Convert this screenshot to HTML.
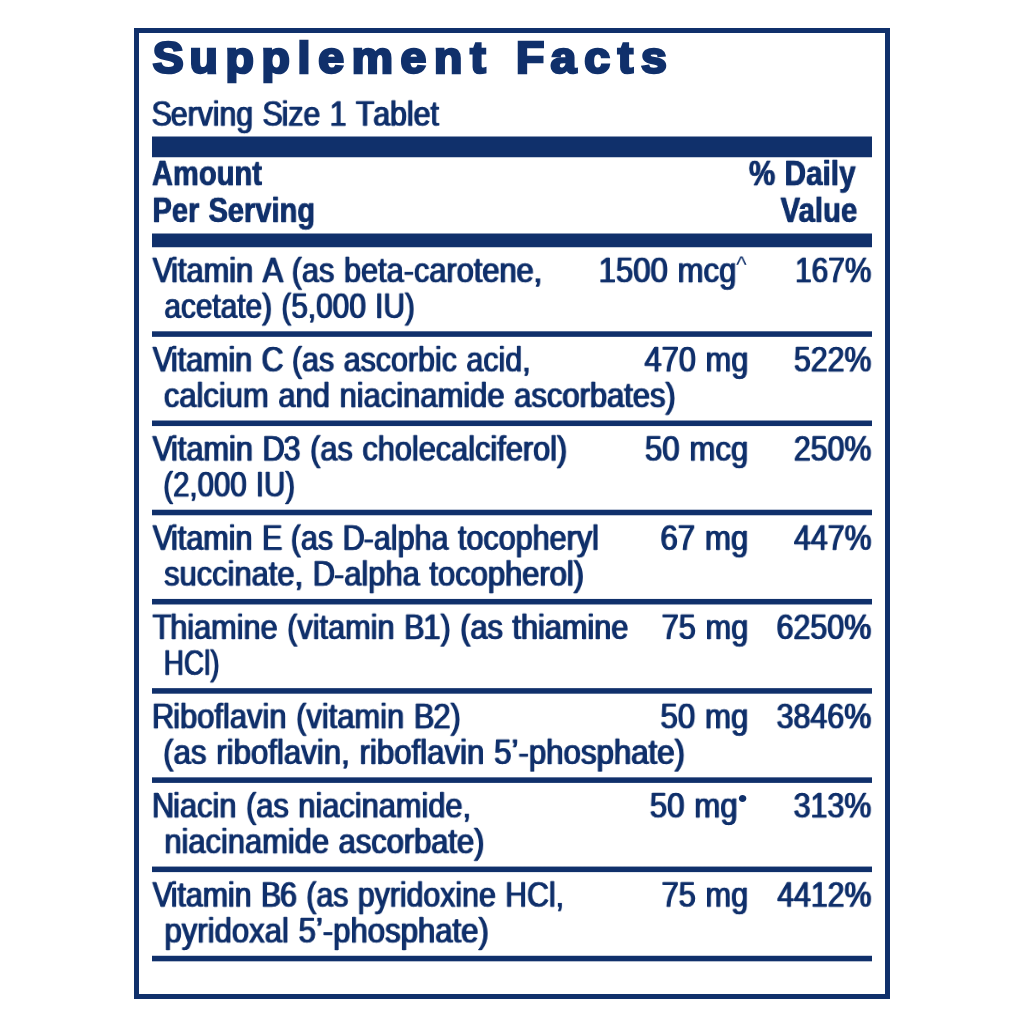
<!DOCTYPE html>
<html lang="en"><head><meta charset="utf-8"><title>Supplement Facts</title>
<style>
html,body{margin:0;padding:0;background:#fff;}
body{width:1024px;height:1024px;position:relative;overflow:hidden;font-family:"Liberation Sans",sans-serif;color:#10306b;}
.box{position:absolute;left:134px;top:28px;width:746px;height:961px;border:5px solid #10306b;box-sizing:content-box;}
.bar{position:absolute;left:152px;width:720px;}
.w{display:inline-block}.c::first-letter{letter-spacing:-1.3px}.v::first-letter{letter-spacing:-2.4px}.ksu::first-letter{letter-spacing:5.433px}.kfa::first-letter{letter-spacing:5.896px}
.t{position:absolute;left:0;top:0;white-space:nowrap;transform-origin:0 0;line-height:1;-webkit-text-stroke-color:#10306b;will-change:transform;}
</style></head><body>
<div class="box"></div>
<div class="bar" style="top:135px;height:24px;background:linear-gradient(to bottom,rgba(16,48,107,0) 1px,#10306b 2px,#10306b 21.75px,rgba(16,48,107,0) 22.75px)"></div>
<div class="bar" style="top:232px;height:17px;background:linear-gradient(to bottom,rgba(16,48,107,0) 1px,#10306b 2px,#10306b 14.75px,rgba(16,48,107,0) 15.75px)"></div>
<div class="bar" style="top:330px;height:8px;background:linear-gradient(to bottom,rgba(16,48,107,0) 0.8px,#10306b 1.8px,#10306b 6.35px,rgba(16,48,107,0) 7.35px)"></div>
<div class="bar" style="top:419px;height:9px;background:linear-gradient(to bottom,rgba(16,48,107,0) 1.01px,#10306b 2.01px,#10306b 6.56px,rgba(16,48,107,0) 7.56px)"></div>
<div class="bar" style="top:508px;height:9px;background:linear-gradient(to bottom,rgba(16,48,107,0) 1.22px,#10306b 2.22px,#10306b 6.77px,rgba(16,48,107,0) 7.77px)"></div>
<div class="bar" style="top:597px;height:9px;background:linear-gradient(to bottom,rgba(16,48,107,0) 1.43px,#10306b 2.43px,#10306b 6.98px,rgba(16,48,107,0) 7.98px)"></div>
<div class="bar" style="top:687px;height:8px;background:linear-gradient(to bottom,rgba(16,48,107,0) 0.64px,#10306b 1.64px,#10306b 6.19px,rgba(16,48,107,0) 7.19px)"></div>
<div class="bar" style="top:776px;height:8px;background:linear-gradient(to bottom,rgba(16,48,107,0) 0.85px,#10306b 1.85px,#10306b 6.4px,rgba(16,48,107,0) 7.4px)"></div>
<div class="bar" style="top:865px;height:9px;background:linear-gradient(to bottom,rgba(16,48,107,0) 1.06px,#10306b 2.06px,#10306b 6.61px,rgba(16,48,107,0) 7.61px)"></div>
<div class="bar" style="top:954px;height:9px;background:linear-gradient(to bottom,rgba(16,48,107,0) 1.27px,#10306b 2.27px,#10306b 6.82px,rgba(16,48,107,0) 7.82px)"></div>
<div class="t ksu" style="transform:translate(152.784px,35.749px) scaleX(1.05);font-size:44.2px;font-weight:700;-webkit-text-stroke-width:2.6px;letter-spacing:7.333px;">Supplement</div>
<div class="t kfa" style="transform:translate(516.077px,35.749px) scaleX(1.05);font-size:44.2px;font-weight:700;-webkit-text-stroke-width:2.6px;letter-spacing:7.396px;">Facts</div>
<div class="t" style="transform:translate(151.602px,97.592px) scale(0.84,0.936);font-size:36px;font-weight:400;-webkit-text-stroke-width:0.3px;text-shadow:0.8px 0 0 #10306b,-0.8px 0 0 #10306b;word-spacing:1.2px;"><span class="w c">Serving</span> <span class="w c">Size</span> 1 <span class="w c">Tablet</span></div>
<div class="t" style="transform:translate(151.923px,157.092px) scale(0.809,0.936);font-size:36px;font-weight:700;-webkit-text-stroke-width:0.3px;text-shadow:0.5px 0 0 #10306b,-0.5px 0 0 #10306b;">Amount</div>
<div class="t" style="transform:translate(152.481px,193.942px) scale(0.808,0.936);font-size:36px;font-weight:700;-webkit-text-stroke-width:0.3px;text-shadow:0.5px 0 0 #10306b,-0.5px 0 0 #10306b;word-spacing:1.2px;">Per Serving</div>
<div class="t" style="transform:translate(748.835px,157.092px) scale(0.826,0.936);font-size:36px;font-weight:700;-webkit-text-stroke-width:0.3px;text-shadow:0.5px 0 0 #10306b,-0.5px 0 0 #10306b;word-spacing:1.2px;">% Daily</div>
<div class="t" style="transform:translate(780.585px,193.942px) scale(0.816,0.936);font-size:36px;font-weight:700;-webkit-text-stroke-width:0.3px;text-shadow:0.5px 0 0 #10306b,-0.5px 0 0 #10306b;">Value</div>
<div class="t" style="transform:translate(152.624px,253.978px) scale(0.854,0.94);font-size:36px;font-weight:400;-webkit-text-stroke-width:0.3px;text-shadow:0.8px 0 0 #10306b,-0.8px 0 0 #10306b;word-spacing:1.2px;"><span class="w v">Vitamin</span> <span class="w c">A</span> (as beta-carotene,</div>
<div class="t" style="transform:translate(164.367px,289.778px) scale(0.828,0.94);font-size:36px;font-weight:400;-webkit-text-stroke-width:0.3px;text-shadow:0.8px 0 0 #10306b,-0.8px 0 0 #10306b;word-spacing:1.2px;">acetate) (5,000 IU)</div>
<div class="t" style="transform:translate(598.623px,253.978px) scale(0.865,0.94);font-size:36px;font-weight:400;-webkit-text-stroke-width:0.3px;text-shadow:0.8px 0 0 #10306b,-0.8px 0 0 #10306b;word-spacing:1.2px;">1500 mcg</div>
<div class="t" style="transform:translate(736.21px,254.191px) scale(0.886,0.88);font-size:25px;font-weight:400;">^</div>
<div class="t" style="transform:translate(795px,253.978px) scale(0.83,0.94);font-size:36px;font-weight:400;-webkit-text-stroke-width:0.3px;text-shadow:0.8px 0 0 #10306b,-0.8px 0 0 #10306b;">167%</div>
<div class="t" style="transform:translate(152.67px,343.188px) scale(0.845,0.94);font-size:36px;font-weight:400;-webkit-text-stroke-width:0.3px;text-shadow:0.8px 0 0 #10306b,-0.8px 0 0 #10306b;word-spacing:1.2px;"><span class="w v">Vitamin</span> <span class="w c">C</span> (as ascorbic acid,</div>
<div class="t" style="transform:translate(163.85px,378.988px) scale(0.859,0.94);font-size:36px;font-weight:400;-webkit-text-stroke-width:0.3px;text-shadow:0.8px 0 0 #10306b,-0.8px 0 0 #10306b;word-spacing:1.2px;">calcium and niacinamide ascorbates)</div>
<div class="t" style="transform:translate(644.472px,343.188px) scale(0.857,0.94);font-size:36px;font-weight:400;-webkit-text-stroke-width:0.3px;text-shadow:0.8px 0 0 #10306b,-0.8px 0 0 #10306b;word-spacing:1.2px;">470 mg</div>
<div class="t" style="transform:translate(793.915px,343.188px) scale(0.842,0.94);font-size:36px;font-weight:400;-webkit-text-stroke-width:0.3px;text-shadow:0.8px 0 0 #10306b,-0.8px 0 0 #10306b;">522%</div>
<div class="t" style="transform:translate(152.531px,432.398px) scale(0.853,0.94);font-size:36px;font-weight:400;-webkit-text-stroke-width:0.3px;text-shadow:0.8px 0 0 #10306b,-0.8px 0 0 #10306b;word-spacing:1.2px;"><span class="w v">Vitamin</span> <span class="w c">D3</span> (as cholecalciferol)</div>
<div class="t" style="transform:translate(163.214px,468.198px) scale(0.818,0.94);font-size:36px;font-weight:400;-webkit-text-stroke-width:0.3px;text-shadow:0.8px 0 0 #10306b,-0.8px 0 0 #10306b;word-spacing:1.2px;">(2,000 IU)</div>
<div class="t" style="transform:translate(644.891px,432.398px) scale(0.867,0.94);font-size:36px;font-weight:400;-webkit-text-stroke-width:0.3px;text-shadow:0.8px 0 0 #10306b,-0.8px 0 0 #10306b;word-spacing:1.2px;">50 mcg</div>
<div class="t" style="transform:translate(793.804px,432.398px) scale(0.843,0.94);font-size:36px;font-weight:400;-webkit-text-stroke-width:0.3px;text-shadow:0.8px 0 0 #10306b,-0.8px 0 0 #10306b;">250%</div>
<div class="t" style="transform:translate(152.667px,521.608px) scale(0.848,0.94);font-size:36px;font-weight:400;-webkit-text-stroke-width:0.3px;text-shadow:0.8px 0 0 #10306b,-0.8px 0 0 #10306b;word-spacing:1.2px;"><span class="w v">Vitamin</span> <span class="w c">E</span> (as <span class="w c">D-alpha</span> tocopheryl</div>
<div class="t" style="transform:translate(164.068px,557.408px) scale(0.858,0.94);font-size:36px;font-weight:400;-webkit-text-stroke-width:0.3px;text-shadow:0.8px 0 0 #10306b,-0.8px 0 0 #10306b;word-spacing:1.2px;">succinate, <span class="w c">D-alpha</span> tocopherol)</div>
<div class="t" style="transform:translate(660.392px,521.608px) scale(0.868,0.94);font-size:36px;font-weight:400;-webkit-text-stroke-width:0.3px;text-shadow:0.8px 0 0 #10306b,-0.8px 0 0 #10306b;word-spacing:1.2px;">67 mg</div>
<div class="t" style="transform:translate(794px,521.608px) scale(0.842,0.94);font-size:36px;font-weight:400;-webkit-text-stroke-width:0.3px;text-shadow:0.8px 0 0 #10306b,-0.8px 0 0 #10306b;">447%</div>
<div class="t" style="transform:translate(152.535px,610.818px) scale(0.852,0.94);font-size:36px;font-weight:400;-webkit-text-stroke-width:0.3px;text-shadow:0.8px 0 0 #10306b,-0.8px 0 0 #10306b;word-spacing:1.2px;"><span class="w c">Thiamine</span> (vitamin <span class="w c">B1)</span> (as thiamine</div>
<div class="t" style="transform:translate(163.734px,646.618px) scale(0.776,0.94);font-size:36px;font-weight:400;-webkit-text-stroke-width:0.3px;text-shadow:0.8px 0 0 #10306b,-0.8px 0 0 #10306b;">HCl)</div>
<div class="t" style="transform:translate(661.541px,610.818px) scale(0.857,0.94);font-size:36px;font-weight:400;-webkit-text-stroke-width:0.3px;text-shadow:0.8px 0 0 #10306b,-0.8px 0 0 #10306b;word-spacing:1.2px;">75 mg</div>
<div class="t" style="transform:translate(776.481px,610.818px) scale(0.846,0.94);font-size:36px;font-weight:400;-webkit-text-stroke-width:0.3px;text-shadow:0.8px 0 0 #10306b,-0.8px 0 0 #10306b;">6250%</div>
<div class="t" style="transform:translate(151.925px,700.028px) scale(0.858,0.94);font-size:36px;font-weight:400;-webkit-text-stroke-width:0.3px;text-shadow:0.8px 0 0 #10306b,-0.8px 0 0 #10306b;word-spacing:1.2px;"><span class="w c">Riboflavin</span> (vitamin <span class="w c">B2)</span></div>
<div class="t" style="transform:translate(163.115px,735.828px) scale(0.867,0.94);font-size:36px;font-weight:400;-webkit-text-stroke-width:0.3px;text-shadow:0.8px 0 0 #10306b,-0.8px 0 0 #10306b;word-spacing:1.2px;">(as riboflavin, riboflavin 5’-phosphate)</div>
<div class="t" style="transform:translate(660.468px,700.028px) scale(0.868,0.94);font-size:36px;font-weight:400;-webkit-text-stroke-width:0.3px;text-shadow:0.8px 0 0 #10306b,-0.8px 0 0 #10306b;word-spacing:1.2px;">50 mg</div>
<div class="t" style="transform:translate(776.569px,700.028px) scale(0.845,0.94);font-size:36px;font-weight:400;-webkit-text-stroke-width:0.3px;text-shadow:0.8px 0 0 #10306b,-0.8px 0 0 #10306b;">3846%</div>
<div class="t" style="transform:translate(151.931px,789.238px) scale(0.855,0.94);font-size:36px;font-weight:400;-webkit-text-stroke-width:0.3px;text-shadow:0.8px 0 0 #10306b,-0.8px 0 0 #10306b;word-spacing:1.2px;"><span class="w c">Niacin</span> (as niacinamide,</div>
<div class="t" style="transform:translate(164.375px,825.038px) scale(0.857,0.94);font-size:36px;font-weight:400;-webkit-text-stroke-width:0.3px;text-shadow:0.8px 0 0 #10306b,-0.8px 0 0 #10306b;word-spacing:1.2px;">niacinamide ascorbate)</div>
<div class="t" style="transform:translate(649.766px,789.238px) scale(0.868,0.94);font-size:36px;font-weight:400;-webkit-text-stroke-width:0.3px;text-shadow:0.8px 0 0 #10306b,-0.8px 0 0 #10306b;word-spacing:1.2px;">50 mg</div>
<div class="t" style="transform:translate(737.781px,784.845px) scaleX(1.063);font-size:26px;font-weight:400;">•</div>
<div class="t" style="transform:translate(793.592px,789.238px) scale(0.845,0.94);font-size:36px;font-weight:400;-webkit-text-stroke-width:0.3px;text-shadow:0.8px 0 0 #10306b,-0.8px 0 0 #10306b;">313%</div>
<div class="t" style="transform:translate(152.563px,878.448px) scale(0.841,0.94);font-size:36px;font-weight:400;-webkit-text-stroke-width:0.3px;text-shadow:0.8px 0 0 #10306b,-0.8px 0 0 #10306b;word-spacing:1.2px;"><span class="w v">Vitamin</span> <span class="w c">B6</span> (as pyridoxine HCl,</div>
<div class="t" style="transform:translate(164.429px,914.248px) scale(0.864,0.94);font-size:36px;font-weight:400;-webkit-text-stroke-width:0.3px;text-shadow:0.8px 0 0 #10306b,-0.8px 0 0 #10306b;word-spacing:1.2px;">pyridoxal 5’-phosphate)</div>
<div class="t" style="transform:translate(661.536px,878.448px) scale(0.856,0.94);font-size:36px;font-weight:400;-webkit-text-stroke-width:0.3px;text-shadow:0.8px 0 0 #10306b,-0.8px 0 0 #10306b;word-spacing:1.2px;">75 mg</div>
<div class="t" style="transform:translate(777.294px,878.448px) scale(0.839,0.94);font-size:36px;font-weight:400;-webkit-text-stroke-width:0.3px;text-shadow:0.8px 0 0 #10306b,-0.8px 0 0 #10306b;">4412%</div>
</body></html>
